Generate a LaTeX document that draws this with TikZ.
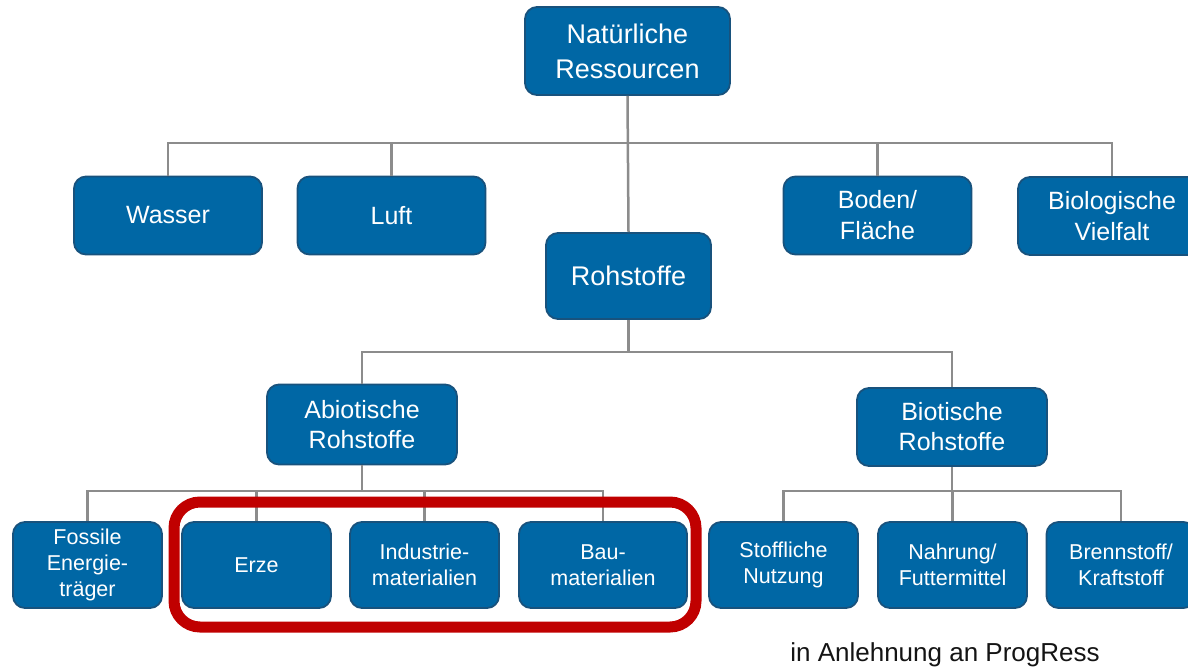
\documentclass[tikz,border=0pt]{standalone}
\usepackage{fontspec}
\setmainfont{Liberation Sans}
\definecolor{boxblue}{RGB}{0,103,165}
\definecolor{boxedge}{RGB}{24,82,125}
\definecolor{linegray}{RGB}{140,140,140}
\definecolor{hired}{RGB}{192,0,0}
\definecolor{captext}{RGB}{20,20,20}
\begin{document}
\begin{tikzpicture}[x=1pt,y=-1pt,
  box/.style={draw=boxedge, line width=1.8pt, fill=boxblue, rounded corners=12pt,
    text=white, align=center, inner sep=0pt},
  bigbox/.style={box, font=\fontsize{27}{35}\selectfont},
  midbox/.style={box, font=\fontsize{25}{31}\selectfont, minimum width=188pt, minimum height=78pt},
  abbox/.style={box, font=\fontsize{25}{30}\selectfont, minimum width=190pt, minimum height=80pt},
  smallbox/.style={box, font=\fontsize{21.5}{26}\selectfont, minimum width=149pt, minimum height=86pt},
  conn/.style={draw=linegray, line width=2.5pt},
  hlbox/.style={draw=hired, line width=11pt, rounded corners=26pt, minimum width=522pt, minimum height=125pt, inner sep=0pt}
]
\useasboundingbox (0,0) rectangle (1188,667);

% level 0
\node[bigbox, minimum width=205pt, minimum height=88pt] (nat) at (627.5,51) {Natürliche\\Ressourcen};
% level 1
\node[midbox] (wasser) at (168,215.5) {Wasser};
\node[midbox] (luft) at (391.5,215.5) {Luft};
\node[midbox] (boden) at (877.5,215.5) {Boden/\\Fläche};
\node[midbox] (bio) at (1112,216) {Biologische\\Vielfalt};
\node[bigbox, minimum width=165pt, minimum height=86pt] (roh) at (628.5,276) {Rohstoffe};
% level 2
\node[abbox] (abio) at (362,424.5) {Abiotische\\Rohstoffe};
\node[abbox, minimum height=78pt] (biot) at (952,427) {Biotische\\Rohstoffe};
% level 3
\node[smallbox] (fossil) at (87.5,565) {Fossile\\Energie-\\träger};
\node[smallbox] (erze) at (256.5,565) {Erze};
\node[smallbox] (ind) at (424.5,565) {Industrie-\\materialien};
\node[smallbox, minimum width=168pt] (bau) at (603,565) {Bau-\\materialien};
\node[smallbox] (stoff) at (783.5,565) {Stoffliche\\Nutzung};
\node[smallbox] (nahr) at (952.5,565) {Nahrung/\\Futtermittel};
\node[smallbox] (brenn) at (1121,565) {Brennstoff/\\Kraftstoff};

% connectors level 0 -> 1
\draw[conn] (nat.south) -- (roh.north);
\draw[conn] (wasser.north) -- (wasser.north |- 0,143) -- (bio.north |- 0,143) -- (bio.north);
\draw[conn] (luft.north) -- (luft.north |- 0,143);
\draw[conn] (boden.north) -- (boden.north |- 0,143);
% Rohstoffe -> level 2
\draw[conn] (roh.south) -- (roh.south |- 0,352);
\draw[conn] (abio.north) -- (abio.north |- 0,352) -- (biot.north |- 0,352) -- (biot.north);
% Abiotische -> level 3
\draw[conn] (abio.south) -- (abio.south |- 0,491);
\draw[conn] (fossil.north) -- (fossil.north |- 0,491) -- (bau.north |- 0,491) -- (bau.north);
\draw[conn] (erze.north) -- (erze.north |- 0,491);
\draw[conn] (ind.north) -- (ind.north |- 0,491);
% Biotische -> level 3
\draw[conn] (biot.south) -- (biot.south |- 0,491);
\draw[conn] (stoff.north) -- (stoff.north |- 0,491) -- (brenn.north |- 0,491) -- (brenn.north);
\draw[conn] (nahr.north) -- (nahr.north |- 0,491);

% highlight
\node[hlbox] (hl) at (435,564.5) {};

% caption
\node[font=\fontsize{26}{30}\selectfont, text=captext, inner sep=0pt] (cap) at (945,655) {in Anlehnung an ProgRess};
\end{tikzpicture}
\end{document}
